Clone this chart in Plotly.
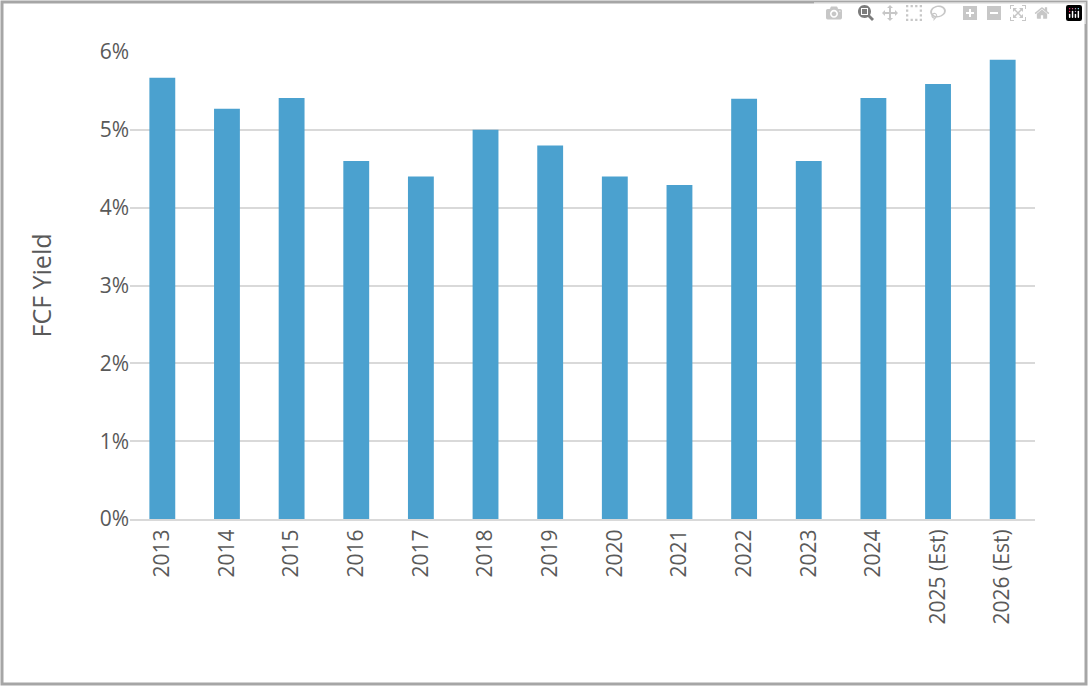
import plotly.graph_objects as go

years = ["2013", "2014", "2015", "2016", "2017", "2018", "2019", "2020", "2021",
         "2022", "2023", "2024", "2025 (Est)", "2026 (Est)"]
fcf_yield = [5.67, 5.27, 5.41, 4.6, 4.4, 5.0, 4.8, 4.4, 4.29, 5.4, 4.6, 5.41, 5.59, 5.9]

W, H = 1088, 686
L, R, T, B = 130, 53, 52, 167
pw, ph = W - L - R, H - T - B

fig = go.Figure(go.Bar(
    x=years, y=[v / 100 for v in fcf_yield],
    marker=dict(color="#4BA1CF", line=dict(width=0)),
))

fig.update_layout(
    width=W, height=H,
    margin=dict(l=L, r=R, t=T, b=B),
    plot_bgcolor="white", paper_bgcolor="white",
    bargap=0.6,
    font=dict(family="Open Sans", size=21, color="#595959"),
    showlegend=False,
    xaxis=dict(tickangle=-90, showline=True, linecolor="#d9d9d9", linewidth=2,
               ticks="", tickfont=dict(size=21)),
    yaxis=dict(range=[0, 0.06], dtick=0.01, tickformat=".0%",
               gridcolor="#d9d9d9", gridwidth=2, zeroline=False,
               title=dict(text="FCF Yield", standoff=40), tickfont=dict(size=21)),
    shapes=[dict(type="rect", xref="paper", yref="paper",
                 x0=-(L - 2) / pw, x1=1 + (R - 2) / pw,
                 y0=-(B - 2) / ph, y1=1 + (T - 2) / ph,
                 line=dict(color="#a6a6a6", width=3))],
)

fig.write_html("out.html", post_script="document.body.style.margin='0';")
